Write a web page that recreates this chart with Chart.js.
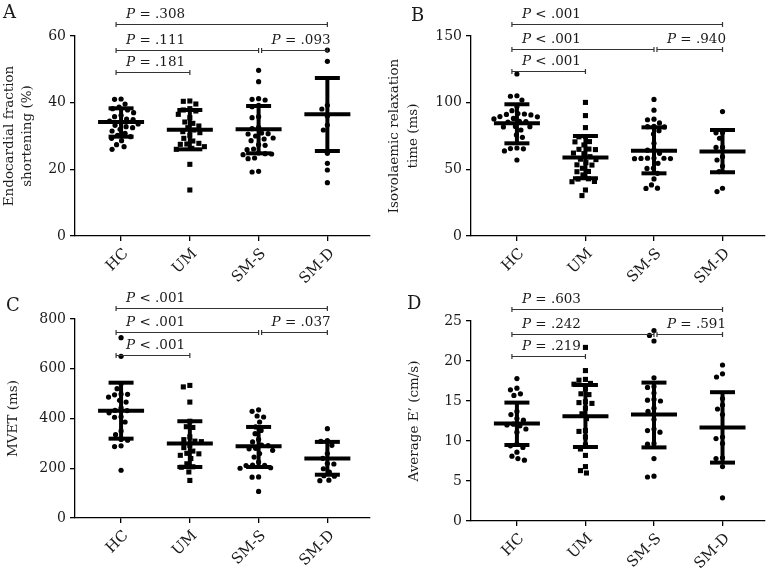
<!DOCTYPE html>
<html>
<head>
<meta charset="utf-8">
<script src="https://cdn.jsdelivr.net/npm/chart.js@4.4.1/dist/chart.umd.min.js"></script>
<style>
  body { margin: 0; background: #fff; }
  #wrap { position: relative; width: 771px; height: 571px; overflow: hidden; }
  canvas { position: absolute; }
</style>
</head>
<body>
<div id="wrap">
  <canvas id="chartA" width="385" height="285" style="left:0;top:0"></canvas>
  <canvas id="chartB" width="386" height="285" style="left:385px;top:0"></canvas>
  <canvas id="chartC" width="385" height="286" style="left:0;top:285px"></canvas>
  <canvas id="chartD" width="386" height="286" style="left:385px;top:285px"></canvas>
</div>
<script>
const categories = ['HC', 'UM', 'SM-S', 'SM-D'];

// A - endocardial fraction shortening (%)
const fsHC = [41.1, 41.0, 39.6, 38.7, 38.2, 37.8, 37.0, 36.2, 35.8, 35.1, 34.9, 34.5, 34.0, 33.6, 33.2, 32.8, 32.5, 32.0, 31.5, 30.8, 30.2, 29.8, 29.3, 28.6, 27.4, 26.8, 26.0];
const fsUM = [40.5, 40.4, 39.6, 38.2, 37.8, 37.5, 36.5, 35.5, 34.2, 33.8, 33.0, 32.5, 31.8, 31.3, 31.0, 30.2, 29.3, 28.5, 27.8, 27.6, 27.5, 26.8, 26.3, 26.0, 21.5, 13.8];
const fsSMS = [49.7, 46.3, 41.2, 41.0, 40.8, 39.2, 38.8, 35.8, 35.5, 32.6, 32.2, 30.9, 30.7, 30.6, 30.0, 29.4, 29.1, 28.6, 27.4, 27.2, 26.1, 25.9, 24.9, 24.7, 24.6, 24.4, 23.4, 23.2, 19.4, 19.2];
const fsSMD = [55.8, 52.4, 39.2, 38.1, 36.0, 33.3, 31.8, 24.8, 21.8, 19.8, 16.0];
const fsMean = [34.2, 31.9, 32.0, 36.5];
const fsUpper = [38.3, 37.8, 39.0, 47.4];
const fsLower = [29.8, 26.0, 24.8, 25.5];
const fsTicks = [0, 20, 40, 60];
const fsBrackets = [[0, 3, 63.5, '= .308'], [0, 2, 55.9, '= .111'], [2, 3, 55.9, '= .093'], [0, 1, 49.2, '= .181']];

// B - isovolaemic relaxation time (ms)
const ivrtHC = [121.5, 105.2, 104.8, 102, 97, 94, 91.8, 91.5, 91.2, 90.8, 89.6, 89.4, 88.2, 87.8, 86, 85.8, 85.5, 82.2, 82, 81.8, 79.5, 75.8, 74, 66, 65.6, 65.4, 63.8, 57];
const ivrtUM = [100.2, 90.3, 81.3, 74.6, 74.4, 70.8, 70.6, 68.3, 65.2, 65, 64.8, 62.2, 61.8, 59.5, 57.6, 57.3, 55, 53.4, 53.2, 50.8, 48.4, 48.2, 45.8, 42.9, 42.7, 40.9, 40.7, 34.5, 30.3];
const ivrtSMS = [102.4, 94.4, 87.6, 87.2, 84.8, 82.2, 82, 81.8, 79, 76.5, 69.5, 64.6, 64.4, 62, 58.5, 58.4, 58.3, 58.2, 58.1, 58, 54.5, 50.9, 50.7, 47, 42.8, 38.3, 35.9, 35.7];
const ivrtSMD = [93.3, 77.6, 77.4, 73.3, 66.6, 66.4, 59.5, 57, 52.5, 48.3, 35.8, 33.3];
const ivrtMean = [84.5, 58.8, 64, 63.3];
const ivrtUpper = [98.8, 75, 81.5, 79.5];
const ivrtLower = [69.5, 43.3, 47, 47.8];
const ivrtTicks = [0, 50, 100, 150];
const ivrtBrackets = [[0, 3, 158.8, '< .001'], [0, 2, 140, '< .001'], [2, 3, 140, '= .940'], [0, 1, 123.8, '< .001']];

// C - MVET (ms)
const mvetHC = [725, 650, 540, 520, 498, 497, 495, 486, 473, 466, 443, 433, 432, 423, 407, 405, 386, 350, 335, 316, 313, 290, 287, 192];
const mvetUM = [533, 527, 466, 389, 367, 364, 326, 315, 309, 307, 292, 283, 269, 260, 258, 252, 239, 218, 206, 204, 185, 151];
const mvetSMS = [435, 429, 410, 406, 386, 366, 352, 339, 316, 306, 293, 291, 280, 278, 272, 259, 245, 225, 213, 212, 211, 202, 200, 165, 164, 107];
const mvetSMD = [359, 311, 308, 292, 259, 240, 219, 217, 198, 185, 170, 168, 152, 150];
const mvetMean = [431, 299, 288, 239];
const mvetUpper = [544, 389, 366, 306];
const mvetLower = [319, 205, 205, 174];
const mvetTicks = [0, 200, 400, 600, 800];
const mvetBrackets = [[0, 3, 844, '< .001'], [0, 2, 749, '< .001'], [2, 3, 749, '= .037'], [0, 1, 655, '< .001']];

// D - average E' (cm/s)
const eHC = [17.8, 16.6, 16.4, 15.9, 15.7, 13.7, 13.3, 12.8, 12.6, 12.1, 12.0, 11.9, 11.5, 11.1, 9.6, 9.4, 9.2, 8.6, 8.1, 7.8, 7.6];
const eUM = [21.7, 18.8, 17.7, 17.6, 17.2, 17.1, 16.5, 15.9, 15.8, 14.9, 14.8, 14.7, 14.1, 13.4, 12.8, 11.3, 11.2, 10.5, 9.5, 9.0, 8.2, 6.8, 6.3, 6.0];
const eSMS = [23.8, 23.2, 22.5, 17.9, 16.8, 16.7, 16.0, 15.2, 15.1, 15.0, 14.1, 13.7, 12.7, 11.5, 11.3, 11.1, 9.7, 9.6, 7.8, 5.6, 5.5];
const eSMD = [19.5, 18.4, 18.0, 15.3, 14.5, 14.0, 13.3, 10.5, 10.3, 9.7, 7.9, 7.8, 6.8, 2.9];
const eMean = [12.2, 13.1, 13.3, 11.7];
const eUpper = [14.8, 17.0, 17.3, 16.1];
const eLower = [9.5, 9.25, 9.2, 7.3];
const eTicks = [0, 5, 10, 15, 20, 25];
const eBrackets = [[0, 3, 26.5, '= .603'], [0, 2, 23.4, '= .242'], [2, 3, 23.4, '= .591'], [0, 1, 20.6, '= .219']];

const FONT = '"DejaVu Serif", serif';
const INK = '#1a1a1a';
const CAT_PX = 68.6;

// spread dots sideways so they don't overlap (like a prism scatter dot plot)
function swarm(values, pxPerUnit) {
    const d = 6.4;
    const placed = [];
    const offsets = new Array(values.length).fill(0);
    const order = values.map((v, i) => i).sort((a, b) => values[b] - values[a]);
    order.forEach(i => {
        const y = values[i] * pxPerUnit;
        for (let k = 0; k < 200; k++) {
            const x = (k % 2 ? -1 : 1) * Math.ceil(k / 2) * 0.5;
            if (placed.every(p => (p.x - x) ** 2 + (p.y - y) ** 2 >= d * d)) {
                placed.push({ x, y });
                offsets[i] = x / CAT_PX;
                break;
            }
        }
    });
    return offsets;
}

const statsPlugin = {
    id: 'stats',
    afterDatasetsDraw(chart, args, opts) {
        const { ctx, scales: { x, y } } = chart;
        const line = (x1, y1, x2, y2) => { ctx.beginPath(); ctx.moveTo(x1, y1); ctx.lineTo(x2, y2); ctx.stroke(); };
        ctx.save();
        ctx.strokeStyle = '#000';
        ctx.lineWidth = 4;
        opts.mean.forEach((m, g) => {
            const cx = x.getPixelForValue(g);
            const yt = y.getPixelForValue(opts.upper[g]);
            const yb = y.getPixelForValue(opts.lower[g]);
            const ym = y.getPixelForValue(m);
            line(cx, yt, cx, yb);
            line(cx - 23, ym, cx + 23, ym);
            line(cx - 12.5, yt, cx + 12.5, yt);
            line(cx - 12.5, yb, cx + 12.5, yb);
        });

        ctx.lineWidth = 1.2;
        ctx.strokeStyle = '#333';
        ctx.fillStyle = INK;
        ctx.textBaseline = 'alphabetic';
        ctx.textAlign = 'left';
        opts.brackets.forEach(([from, to, level, label]) => {
            const x1 = x.getPixelForValue(from) + (from === 0 ? -5 : 3);
            const x2 = x.getPixelForValue(to);
            const yy = Math.round(y.getPixelForValue(level)) + 0.5;
            line(x1, yy, x2, yy);
            line(x1, yy - 2.5, x1, yy + 2.5);
            line(x2, yy - 2.5, x2, yy + 2.5);
            const tx = x1 + 10, ty = yy - 7;
            ctx.font = 'italic 13.5px ' + FONT;
            ctx.fillText('P', tx, ty);
            const w = ctx.measureText('P ').width;
            ctx.font = '13.5px ' + FONT;
            ctx.fillText(label, tx + w, ty);
        });

        ctx.font = '18px ' + FONT;
        ctx.fillText(opts.letter[0], opts.letter[1], opts.letter[2]);
        ctx.restore();
    }
};

function makePanel(id, groups, cfg) {
    const pxPerUnit = 200 / cfg.yMax;
    const datasets = groups.map((vals, g) => {
        const off = swarm(vals, pxPerUnit);
        return {
            data: vals.map((v, i) => ({ x: g + off[i], y: v })),
            pointStyle: g === 1 ? 'rect' : 'circle',
            pointRadius: g === 1 ? 3.6 : 2.6,
            backgroundColor: '#000',
            borderWidth: 0
        };
    });

    return new Chart(document.getElementById(id), {
        type: 'scatter',
        data: { datasets },
        options: {
            responsive: false,
            animation: false,
            layout: { padding: { top: cfg.top, right: cfg.right, left: 0, bottom: 0 } },
            plugins: {
                legend: { display: false },
                tooltip: { enabled: false },
                stats: { mean: cfg.mean, upper: cfg.upper, lower: cfg.lower, brackets: cfg.brackets, letter: cfg.letter }
            },
            scales: {
                x: {
                    type: 'linear',
                    min: -0.67,
                    max: 3.62,
                    afterBuildTicks: s => { s.ticks = [0, 1, 2, 3].map(v => ({ value: v })); },
                    afterFit: s => { s.height = cfg.xh; },
                    ticks: {
                        callback: v => categories[v],
                        minRotation: 45,
                        maxRotation: 45,
                        color: INK,
                        padding: 4,
                        labelOffset: 5,
                        font: { family: FONT, size: 15 }
                    },
                    grid: { drawOnChartArea: false, tickLength: 5, color: '#000', lineWidth: 1.3 },
                    border: { color: '#000', width: 1.3 }
                },
                y: {
                    min: 0,
                    max: cfg.yMax,
                    afterBuildTicks: s => { s.ticks = cfg.ticks.map(v => ({ value: v })); },
                    afterFit: s => { s.width = cfg.yw; },
                    ticks: { color: INK, padding: 4, font: { family: FONT, size: 14 } },
                    grid: { drawOnChartArea: false, tickLength: 5, color: '#000', lineWidth: 1.3 },
                    border: { color: '#000', width: 1.3 },
                    title: {
                        display: true,
                        text: cfg.title,
                        color: INK,
                        padding: { top: cfg.tp, bottom: 0 },
                        font: { family: FONT, size: 13.5, lineHeight: 1.38 }
                    }
                }
            }
        },
        plugins: [statsPlugin]
    });
}

makePanel('chartA', [fsHC, fsUM, fsSMS, fsSMD], {
    yMax: 60, ticks: fsTicks, mean: fsMean, upper: fsUpper, lower: fsLower, brackets: fsBrackets,
    title: ['Endocardial fraction', 'shortening (%)'], tp: 0, yw: 75, xh: 49, top: 36, right: 15, letter: ['A', 3, 18]
});
makePanel('chartB', [ivrtHC, ivrtUM, ivrtSMS, ivrtSMD], {
    yMax: 150, ticks: ivrtTicks, mean: ivrtMean, upper: ivrtUpper, lower: ivrtLower, brackets: ivrtBrackets,
    title: ['Isovolaemic relaxation', 'time (ms)'], tp: 0.6, yw: 86, xh: 49, top: 36, right: 6, letter: ['B', 26, 21]
});
makePanel('chartC', [mvetHC, mvetUM, mvetSMS, mvetSMD], {
    yMax: 800, ticks: mvetTicks, mean: mvetMean, upper: mvetUpper, lower: mvetLower, brackets: mvetBrackets,
    title: 'MVET (ms)', tp: 4.3, yw: 75, xh: 53, top: 34, right: 15, letter: ['C', 6, 26]
});
makePanel('chartD', [eHC, eUM, eSMS, eSMD], {
    yMax: 25, ticks: eTicks, mean: eMean, upper: eUpper, lower: eLower, brackets: eBrackets,
    title: 'Average E\u2019 (cm/s)', tp: 20.3, yw: 86, xh: 50, top: 36, right: 6, letter: ['D', 22, 24]
});
</script>
</body>
</html>
